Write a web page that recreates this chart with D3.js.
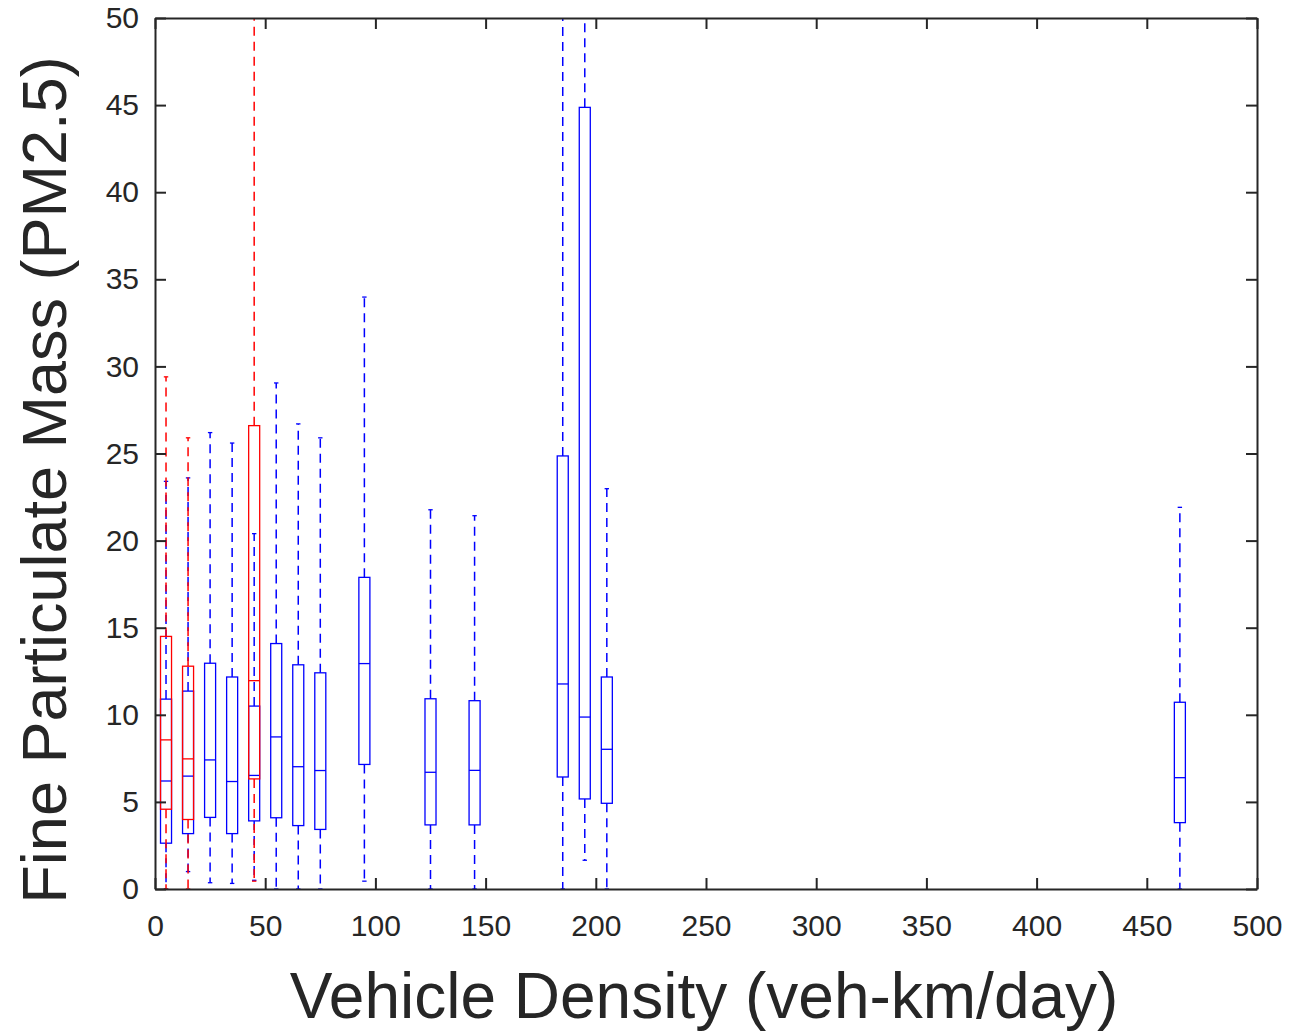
<!DOCTYPE html>
<html>
<head>
<meta charset="utf-8">
<script src="https://cdn.jsdelivr.net/npm/d3@7"></script>
<style>
  body { margin: 0; background: #fff; }
  text { font-family: Arial, "Liberation Sans", sans-serif; fill: #262626; }
</style>
</head>
<body>
<svg id="drawing_region"></svg>
<script>
// blue group: positions and box stats (lower whisker, q1, median, q3, upper whisker)
const bluePos    = [5, 15, 25, 35, 45, 55, 65, 75, 95, 125, 145, 185, 195, 205, 465];
const blueLow    = [0, 1.0, 0.36, 0.32, 0.5, 0, 0, 0, 0.45, 0, 0, 0, 1.65, 0, 0];
const blueQ1     = [2.63, 3.18, 4.11, 3.18, 3.91, 4.09, 3.64, 3.42, 7.15, 3.68, 3.68, 6.43, 5.17, 4.92, 3.81];
const blueMed    = [6.2, 6.48, 7.41, 6.17, 6.52, 8.73, 7.02, 6.8, 12.94, 6.7, 6.81, 11.77, 9.87, 8.02, 6.39];
const blueQ3     = [10.9, 11.36, 12.96, 12.17, 10.5, 14.09, 12.87, 12.41, 17.89, 10.92, 10.81, 24.86, 44.87, 12.17, 10.72];
const blueHigh   = [23.4, 23.6, 26.2, 25.6, 20.4, 29.05, 26.7, 25.9, 33.98, 21.77, 21.43, 55, 55, 22.98, 21.91];

// red group
const redPos     = [5, 15, 45];
const redLow     = [0, 0, 0.45];
const redQ1      = [4.58, 3.99, 6.32];
const redMed     = [8.56, 7.47, 11.96];
const redQ3      = [14.5, 12.79, 26.6];
const redHigh    = [29.4, 25.9, 55];

const xTicks = [0, 50, 100, 150, 200, 250, 300, 350, 400, 450, 500];
const yTicks = [0, 5, 10, 15, 20, 25, 30, 35, 40, 45, 50];

const width = 1289, height = 1034;
const margin = {top: 18, right: 32, bottom: 145, left: 155};
const inner_width = width - margin.left - margin.right;
const inner_height = height - margin.top - margin.bottom;

const svg = d3.select('#drawing_region')
    .attr('width', width)
    .attr('height', height);
const chart = svg.append('g')
    .attr('transform', `translate(${margin.left}, ${margin.top})`);

const xscale = d3.scaleLinear().domain([0, 500]).range([0, inner_width]);
const yscale = d3.scaleLinear().domain([0, 50]).range([inner_height, 0]);

svg.append('defs').append('clipPath').attr('id', 'clip')
  .append('rect').attr('width', inner_width).attr('height', inner_height);

const plot = chart.append('g').attr('clip-path', 'url(#clip)');

function makeBoxes(pos, low, q1, med, q3, high, color) {
  const data = pos.map((p, i) => ({p, low: low[i], q1: q1[i], med: med[i], q3: q3[i], high: high[i]}));
  const g = plot.append('g');
  const boxHalf = 2.5, capHalf = 1;
  const groups = g.selectAll('g').data(data).enter().append('g');

  // whiskers
  groups.append('line')
      .attr('x1', d => xscale(d.p)).attr('x2', d => xscale(d.p))
      .attr('y1', d => yscale(d.q3)).attr('y2', d => yscale(d.high))
      .attr('stroke', color).attr('stroke-width', 1.5).attr('stroke-dasharray', '9,6');
  groups.append('line')
      .attr('x1', d => xscale(d.p)).attr('x2', d => xscale(d.p))
      .attr('y1', d => yscale(d.q1)).attr('y2', d => yscale(d.low))
      .attr('stroke', color).attr('stroke-width', 1.5).attr('stroke-dasharray', '9,6');
  // caps
  ['low', 'high'].forEach(k => {
    groups.append('line')
        .attr('x1', d => xscale(d.p - capHalf)).attr('x2', d => xscale(d.p + capHalf))
        .attr('y1', d => yscale(d[k])).attr('y2', d => yscale(d[k]))
        .attr('stroke', color).attr('stroke-width', 1.3);
  });
  // box
  groups.append('rect')
      .attr('x', d => xscale(d.p - boxHalf))
      .attr('width', d => xscale(d.p + boxHalf) - xscale(d.p - boxHalf))
      .attr('y', d => yscale(d.q3))
      .attr('height', d => yscale(d.q1) - yscale(d.q3))
      .attr('fill', 'none').attr('stroke', color).attr('stroke-width', 1.3);
  // median
  groups.append('line')
      .attr('x1', d => xscale(d.p - boxHalf)).attr('x2', d => xscale(d.p + boxHalf))
      .attr('y1', d => yscale(d.med)).attr('y2', d => yscale(d.med))
      .attr('stroke', color).attr('stroke-width', 1.3);
}

makeBoxes(bluePos, blueLow, blueQ1, blueMed, blueQ3, blueHigh, '#0000ff');
makeBoxes(redPos, redLow, redQ1, redMed, redQ3, redHigh, '#ff0000');

// axes (box style, ticks inside)
const axisColor = '#262626';
const tickLen = 11;
function styleAxis(g) {
  g.selectAll('path, line').attr('stroke', axisColor).attr('stroke-width', 2);
  g.selectAll('text').attr('font-size', '30px').attr('fill', axisColor)
      .style('font-family', 'Arial, "Liberation Sans", sans-serif');
}

chart.append('g')
    .attr('transform', `translate(0, ${inner_height})`)
    .call(d3.axisBottom(xscale).tickValues(xTicks).tickSizeInner(-tickLen).tickSizeOuter(0).tickPadding(26))
    .call(styleAxis);
chart.append('g')
    .call(d3.axisTop(xscale).tickValues(xTicks).tickSizeInner(-tickLen).tickSizeOuter(0).tickFormat(''))
    .call(styleAxis);
chart.append('g')
    .call(d3.axisLeft(yscale).tickValues(yTicks).tickSizeInner(-tickLen).tickSizeOuter(0).tickPadding(16))
    .call(styleAxis);
chart.append('g')
    .attr('transform', `translate(${inner_width}, 0)`)
    .call(d3.axisRight(yscale).tickValues(yTicks).tickSizeInner(-tickLen).tickSizeOuter(0).tickFormat(''))
    .call(styleAxis);

// titles
svg.append('text')
    .attr('x', 704).attr('y', 1018)
    .attr('text-anchor', 'middle')
    .attr('font-size', '64px')
    .text('Vehicle Density (veh-km/day)');

svg.append('text')
    .attr('transform', 'translate(66, 480) rotate(-90)')
    .attr('text-anchor', 'middle')
    .attr('font-size', '63px')
    .text('Fine Particulate Mass (PM2.5)');
</script>
</body>
</html>
